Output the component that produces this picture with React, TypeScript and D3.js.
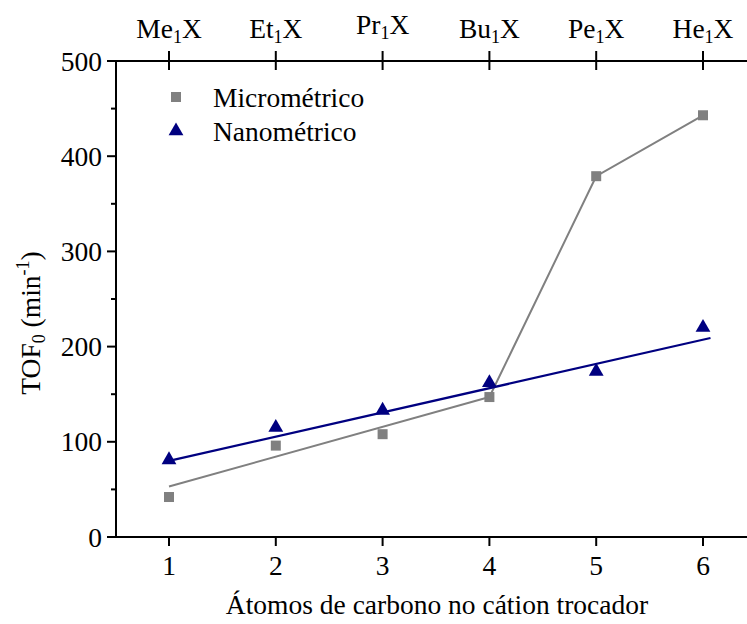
import React from "react";
import * as d3 from "d3";

const xValues = [1, 2, 3, 4, 5, 6];
const microValues = [42, 96, 108, 147, 379, 443];
const nanoValues = [81, 115, 133, 162, 174, 220];
const microFitX = [1, 4];
const microFitY = [53, 147];
const nanoFitX = [1, 6.07];
const nanoFitY = [80, 209];
const topLabels = ["Me", "Et", "Pr", "Bu", "Pe", "He"];
const yMajor = [0, 100, 200, 300, 400, 500];
const yMinor = [50, 150, 250, 350, 450];
const seriesNames = ["Micrométrico", "Nanométrico"];

const W = 747;
const H = 624;
const FONT = '"Liberation Serif", "Times New Roman", serif';
const GRAY = "#808080";
const NAVY = "#000080";
const FS = 27.5;
const SUB = 18;

export default function App() {
  const x = d3.scaleLinear().domain([1, 6]).range([169, 703]);
  const y = d3.scaleLinear().domain([0, 500]).range([537, 61]);
  const left = 116;
  const right = W;
  const top = y(500);
  const bottom = y(0);

  const line = d3
    .line<[number, number]>()
    .x((d) => x(d[0]))
    .y((d) => y(d[1]));

  const microFit: [number, number][] = microFitX.map((v, i) => [v, microFitY[i]]);
  const nanoFit: [number, number][] = nanoFitX.map((v, i) => [v, nanoFitY[i]]);
  const microJump: [number, number][] = [3, 4, 5].map((i) => [xValues[i], microValues[i]]);

  const tri = d3.symbol().type(d3.symbolTriangle).size(95)();
  const sq = 10;
  const ts: React.CSSProperties = { fontFamily: FONT, fontSize: FS };
  const subS: React.CSSProperties = { fontFamily: FONT, fontSize: SUB };

  return (
    <div style={{ position: "absolute", left: 0, top: 0 }}>
      <svg width={W} height={H} style={{ display: "block", background: "#fff" }}>
        <line x1={left} x2={right} y1={bottom} y2={bottom} stroke="#000" strokeWidth={2} />
        <line x1={left} x2={left} y1={top} y2={bottom} stroke="#000" strokeWidth={2} />
        <line x1={left} x2={right} y1={top} y2={top} stroke="#000" strokeWidth={2} />

        {yMajor.map((v) => (
          <g key={"ym" + v}>
            <line x1={left - 9} x2={left} y1={y(v)} y2={y(v)} stroke="#000" strokeWidth={2} />
            <text x={left - 14} y={y(v) + 9.5} textAnchor="end" style={ts}>
              {v}
            </text>
          </g>
        ))}
        {yMinor.map((v) => (
          <line key={"yn" + v} x1={left - 5} x2={left} y1={y(v)} y2={y(v)} stroke="#000" strokeWidth={2} />
        ))}

        {xValues.map((v) => (
          <g key={"xb" + v}>
            <line x1={x(v)} x2={x(v)} y1={bottom} y2={bottom + 9} stroke="#000" strokeWidth={2} />
            <text x={x(v)} y={bottom + 38} textAnchor="middle" style={ts}>
              {v}
            </text>
          </g>
        ))}

        {xValues.map((v, i) => (
          <g key={"xt" + v}>
            <line x1={x(v)} x2={x(v)} y1={top - 10} y2={top + 9} stroke="#000" strokeWidth={2} />
            <text x={x(v)} y={i === 2 ? 34 : 38} textAnchor="middle" style={ts}>
              <tspan>{topLabels[i]}</tspan>
              <tspan dy={5} style={subS}>1</tspan>
              <tspan dy={-5}>X</tspan>
            </text>
          </g>
        ))}

        <path d={line(microFit) || ""} fill="none" stroke={GRAY} strokeWidth={2} />
        <path d={line(microJump) || ""} fill="none" stroke={GRAY} strokeWidth={2} />
        <path d={line(nanoFit) || ""} fill="none" stroke={NAVY} strokeWidth={2.2} />

        {xValues.map((v, i) => (
          <rect
            key={"m" + v}
            x={x(v) - sq / 2}
            y={y(microValues[i]) - sq / 2}
            width={sq}
            height={sq}
            fill={GRAY}
          />
        ))}
        {xValues.map((v, i) => (
          <path key={"n" + v} d={tri || ""} transform={`translate(${x(v)},${y(nanoValues[i])})`} fill={NAVY} />
        ))}

        <rect x={176 - sq / 2} y={97 - sq / 2} width={sq} height={sq} fill={GRAY} />
        <text x={213} y={107} style={ts}>
          {seriesNames[0]}
        </text>
        <path d={tri || ""} transform="translate(176,131)" fill={NAVY} />
        <text x={213} y={141} style={ts}>
          {seriesNames[1]}
        </text>

        <text x={437} y={614} textAnchor="middle" style={ts}>
          Átomos de carbono no cátion trocador
        </text>
        <text transform="translate(40,323) rotate(-90)" textAnchor="middle" style={ts}>
          <tspan>TOF</tspan>
          <tspan dy={5} style={subS}>0</tspan>
          <tspan dy={-5}> (min</tspan>
          <tspan dy={-11} style={subS}>-1</tspan>
          <tspan dy={11}>)</tspan>
        </text>
      </svg>
    </div>
  );
}
